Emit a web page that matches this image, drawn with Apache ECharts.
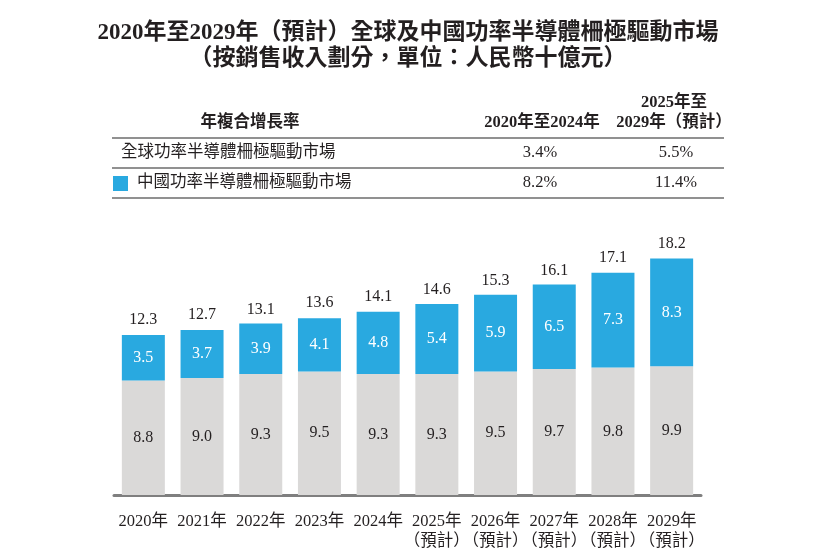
<!DOCTYPE html>
<html>
<head>
<meta charset="utf-8">
<script src="https://cdn.jsdelivr.net/npm/echarts@6/dist/echarts.min.js"></script>
<style>
  html, body { margin: 0; padding: 0; background: #fff; }
  #chart { width: 820px; height: 559px; }
</style>
</head>
<body>
<div id="chart"></div>
<script>
var years = ['2020年', '2021年', '2022年', '2023年', '2024年', '2025年\n（預計）', '2026年\n（預計）', '2027年\n（預計）', '2028年\n（預計）', '2029年\n（預計）'];
var restValues = [8.8, 9.0, 9.3, 9.5, 9.3, 9.3, 9.5, 9.7, 9.8, 9.9];
var chinaValues = [3.5, 3.7, 3.9, 4.1, 4.8, 5.4, 5.9, 6.5, 7.3, 8.3];
var totals = [12.3, 12.7, 13.1, 13.6, 14.1, 14.6, 15.3, 16.1, 17.1, 18.2];

var cagrHeader = ['年複合增長率', '2020年至2024年', '2025年至\n2029年（預計）'];
var globalRow = ['全球功率半導體柵極驅動市場', '3.4%', '5.5%'];
var chinaRow = ['中國功率半導體柵極驅動市場', '8.2%', '11.4%'];

var FONT = '"Liberation Serif", "Noto Sans CJK TC", serif';
var BLUE = '#29a9e0';
var GRAY = '#dad9d8';
var INK = '#231f20';

var chart = echarts.init(document.getElementById('chart'));

function txt(x, y, s, opt) {
  return {
    type: 'text', x: x, y: y,
    style: Object.assign({
      text: s, fontFamily: FONT, fontSize: 16.5, fill: INK,
      align: 'left', verticalAlign: 'middle'
    }, opt || {})
  };
}
function hline(y) {
  return { type: 'line', shape: { x1: 112, y1: y, x2: 724, y2: y }, style: { stroke: '#6d6d6d', lineWidth: 1.5 } };
}

var graphics = [
  txt(408, 33, '2020年至2029年（預計）全球及中國功率半導體柵極驅動市場', { fontSize: 23, fontWeight: 'bold', align: 'center' }),
  txt(408, 59, '（按銷售收入劃分，單位：人民幣十億元）', { fontSize: 23, fontWeight: 'bold', align: 'center' }),
  txt(250, 123, cagrHeader[0], { fontWeight: 'bold', align: 'center' }),
  txt(542, 123, cagrHeader[1], { fontWeight: 'bold', align: 'center' }),
  txt(674, 113, cagrHeader[2], { fontWeight: 'bold', align: 'center', lineHeight: 20 }),
  hline(138),
  txt(121, 153, globalRow[0]),
  txt(540, 153, globalRow[1], { align: 'center' }),
  txt(676, 153, globalRow[2], { align: 'center' }),
  hline(168),
  { type: 'rect', shape: { x: 113, y: 176, width: 15, height: 15 }, style: { fill: BLUE } },
  txt(137, 183, chinaRow[0]),
  txt(540, 183, chinaRow[1], { align: 'center' }),
  txt(676, 183, chinaRow[2], { align: 'center' }),
  hline(198)
];

function fmt(p) { return p.value.toFixed(1); }

chart.setOption({
  animation: false,
  textStyle: { fontFamily: FONT },
  graphic: graphics,
  grid: { left: 114, right: 119, top: 235, bottom: 64 },
  xAxis: {
    type: 'category',
    data: years,
    axisLine: { lineStyle: { color: '#7f7f7f', width: 3 } },
    axisTick: { show: false },
    axisLabel: { color: INK, fontSize: 16.5, fontFamily: FONT, margin: 17, lineHeight: 20, interval: 0 }
  },
  yAxis: {
    type: 'value', min: 0, max: 20,
    show: false, splitLine: { show: false }
  },
  series: [
    {
      name: '其他', type: 'bar', stack: 'total', data: restValues, barWidth: 43,
      itemStyle: { color: GRAY },
      label: { show: true, position: 'inside', color: INK, textBorderWidth: 0, fontSize: 16, fontFamily: FONT, formatter: fmt }
    },
    {
      name: '中國', type: 'bar', stack: 'total', data: chinaValues, barWidth: 43,
      itemStyle: { color: BLUE },
      label: { show: true, position: 'inside', color: '#ffffff', textBorderWidth: 0, fontSize: 16, fontFamily: FONT, formatter: fmt }
    },
    {
      name: '總計', type: 'scatter', data: totals, symbolSize: 0,
      itemStyle: { color: INK, opacity: 1 },
      label: { show: true, position: 'top', distance: 7, color: INK, opacity: 1, textBorderWidth: 0, fontSize: 16, fontFamily: FONT, formatter: fmt }
    }
  ]
});
</script>
</body>
</html>
